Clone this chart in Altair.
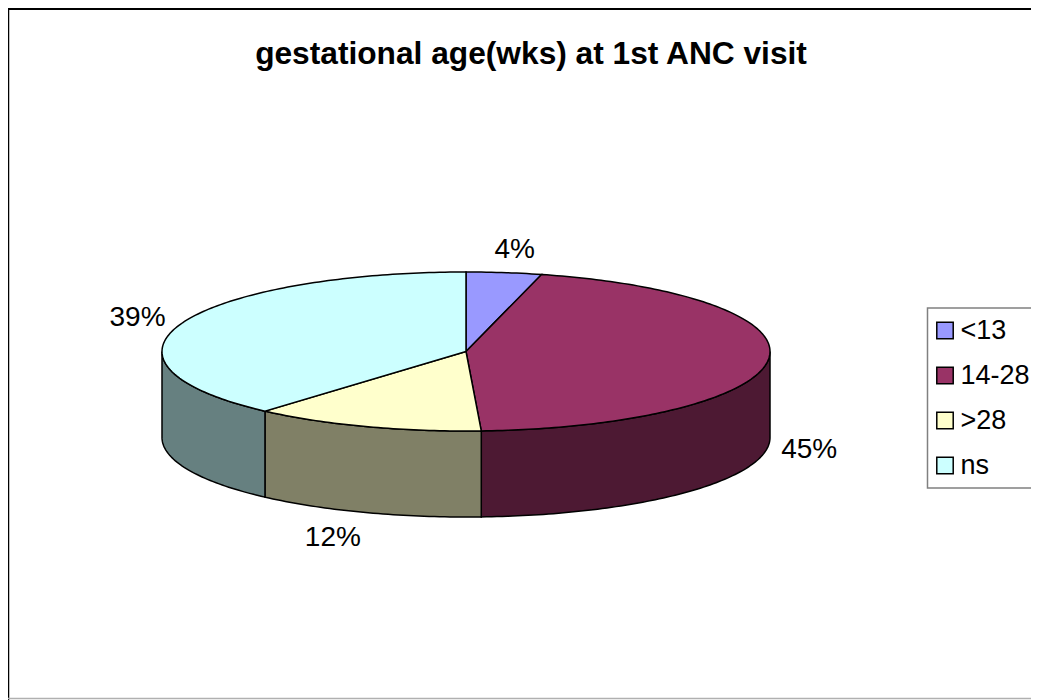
import math
import altair as alt

# Values
categories = ["<13", "14-28", ">28", "ns"]
shares = [4.0, 45.2, 12.3, 38.5]
share_labels = ["4%", "45%", "12%", "39%"]
top_colors = ["#9999FF", "#993366", "#FFFFCC", "#CCFFFF"]
side_colors = ["#4D1933", "#4D1933", "#808066", "#668080"]
label_nudges = [(5, 9), (-4, 1), (-18, -5), (-2, 6)]

# Pie geometry (chart-local pixels)
W, H = 1023, 692
CX, CY, RX, RY, DEPTH = 458, 343.5, 304, 79.5, 86
FONT = "Liberation Sans"


def pt(deg, dy=0.0):
    a = math.radians(deg)
    return [CX + RX * math.sin(a), CY - RY * math.cos(a) + dy]


def arc(a, b):
    n = max(2, int(abs(b - a)) + 1)
    return [pt(a + (b - a) * i / n) for i in range(n + 1)]


def feature(coords, **props):
    ring = coords + [coords[0]]
    return {"type": "Feature", "properties": props,
            "geometry": {"type": "Polygon", "coordinates": [ring]}}


tops, sides, labels = [], [], []
start = 0.0
for cat, s, lab, sc, (nx, ny) in zip(categories, shares, share_labels, side_colors, label_nudges):
    end = start + s * 3.6
    tops.append(feature([[CX, CY]] + arc(start, end), cat=cat))
    lo, hi = max(start, 90.0), min(end, 270.0)
    if lo < hi:
        front = arc(lo, hi)
        back = [[x, y + DEPTH] for x, y in reversed(front)]
        sides.append(feature(front + back, cat=cat, col=sc))
    mid = math.radians((start + end) / 2)
    lower = math.cos(mid) < 0
    labels.append({
        "lon": CX + (RX + 45) * math.sin(mid) + nx,
        "lat": CY - (RY + 32) * math.cos(mid) + (DEPTH if lower else 0) + ny,
        "text": lab,
    })
    start = end

proj = dict(type="identity", scale=1, translate=[0, 0])

side_layer = alt.Chart(alt.Data(values=sides)).mark_geoshape(
    stroke="black", strokeWidth=1.5
).encode(fill=alt.Fill("properties.col:N", scale=None, legend=None)).project(**proj)

top_layer = alt.Chart(alt.Data(values=tops)).mark_geoshape(
    stroke="black", strokeWidth=1.5
).encode(
    fill=alt.Fill(
        "properties.cat:N",
        scale=alt.Scale(domain=categories, range=top_colors),
        legend=alt.Legend(
            title=None, orient="none", legendX=919.5, legendY=300,
            symbolType="square", symbolSize=270, symbolOffset=-5,
            symbolStrokeColor="black", symbolStrokeWidth=1.5,
            labelFont=FONT, labelFontSize=27, labelColor="black", labelOffset=2,
            rowPadding=17, padding=9, strokeColor="#808080",
        ),
    )
).project(**proj)

text_layer = alt.Chart(alt.Data(values=labels)).mark_text(
    font=FONT, fontSize=28, color="black", align="center", baseline="middle"
).encode(longitude="lon:Q", latitude="lat:Q", text="text:N").project(**proj)

left = alt.Chart(alt.Data(values=[{"a": 0}])).mark_rule(color="black", strokeWidth=1.5).encode(
    x=alt.value(0.5), y=alt.value(0), y2=alt.value(H))
top = alt.Chart(alt.Data(values=[{"a": 0}])).mark_rule(color="black", strokeWidth=2).encode(
    x=alt.value(0), x2=alt.value(W), y=alt.value(1))
bottom = alt.Chart(alt.Data(values=[{"a": 0}])).mark_rule(color="#B0B0B0", strokeWidth=1.5).encode(
    x=alt.value(0), x2=alt.value(W), y=alt.value(690.5))

chart = alt.layer(left, top, bottom, side_layer, top_layer, text_layer).properties(
    width=W, height=H, padding=0, autosize=alt.AutoSizeParams(type="none"),
    title=alt.TitleParams(
        "gestational age(wks) at 1st ANC visit", font=FONT, fontSize=31.7, fontWeight="bold",
        color="black", anchor="middle", dx=11.5, dy=67,
    ),
).resolve_scale(fill="independent").configure_view(stroke=None).configure_legend(strokeWidth=1.5)

chart.save("out.html", embed_options={"renderer": "svg", "actions": False})
